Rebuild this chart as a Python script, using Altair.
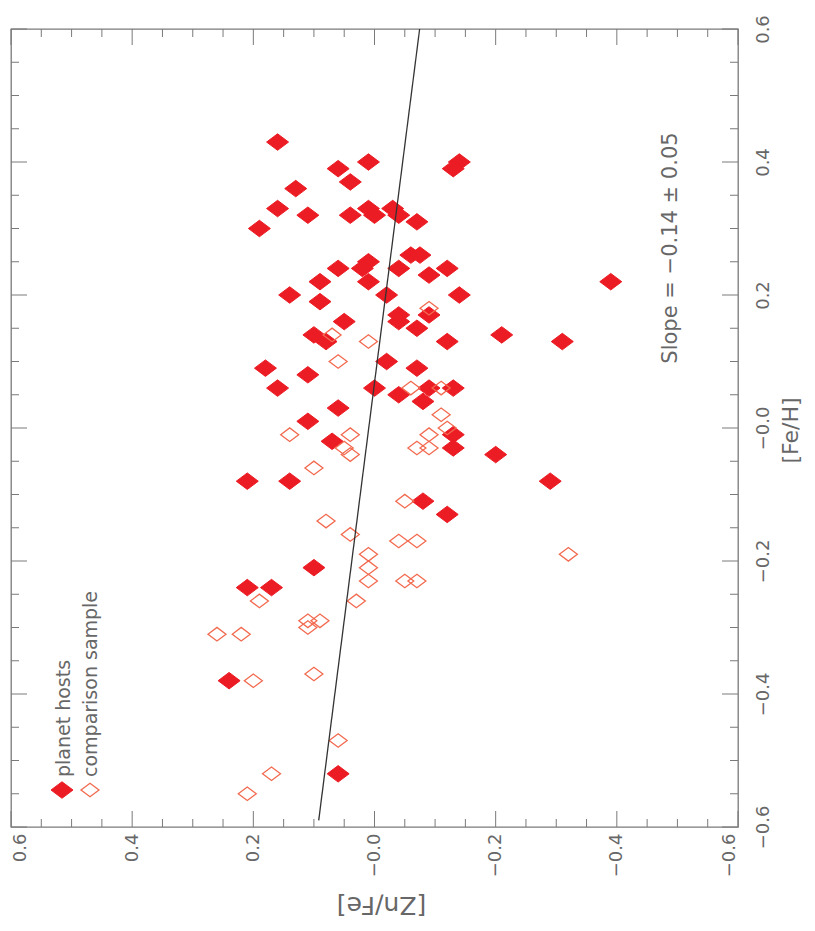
import altair as alt
import pandas as pd

# Planet-host stars ([Zn/Fe], [Fe/H])
host_znfe = [0.16, 0.01, 0.06, -0.14, -0.13, 0.04, 0.13, 0.16, 0.11, 0.19,
             0.04, 0.01, 0.00, -0.03, -0.04, -0.07, -0.06, -0.075, 0.01, 0.02,
             0.06, -0.04, -0.12, -0.09, 0.01, 0.09, 0.14, 0.09, -0.02, -0.14,
             -0.04, -0.04, -0.09, 0.05, -0.07, 0.10, 0.08, -0.12, -0.21, 0.18,
             0.11, -0.02, -0.07, 0.16, 0.00, -0.04, -0.09, -0.08, -0.13, 0.06,
             0.11, 0.07, -0.13, -0.39, -0.31, -0.13, -0.20, 0.21, 0.14, -0.29,
             -0.08, -0.12, 0.10, 0.21, 0.17, 0.24, 0.06]
host_feh = [0.43, 0.40, 0.39, 0.40, 0.39, 0.37, 0.36, 0.33, 0.32, 0.30,
            0.32, 0.33, 0.32, 0.33, 0.32, 0.31, 0.26, 0.26, 0.25, 0.24,
            0.24, 0.24, 0.24, 0.23, 0.22, 0.22, 0.20, 0.19, 0.20, 0.20,
            0.17, 0.16, 0.17, 0.16, 0.15, 0.14, 0.13, 0.13, 0.14, 0.09,
            0.08, 0.10, 0.09, 0.06, 0.06, 0.05, 0.06, 0.04, 0.06, 0.03,
            0.01, -0.02, -0.01, 0.22, 0.13, -0.03, -0.04, -0.08, -0.08, -0.08,
            -0.11, -0.13, -0.21, -0.24, -0.24, -0.38, -0.52]

# Comparison sample ([Zn/Fe], [Fe/H])
comp_znfe = [-0.09, 0.07, 0.01, 0.06, -0.06, -0.11, -0.11, -0.12, -0.09, 0.14,
             0.04, 0.05, 0.04, -0.07, -0.09, 0.10, -0.05, 0.08, 0.04, -0.04,
             -0.07, 0.01, -0.32, 0.01, 0.01, -0.05, -0.07, 0.19, 0.03, 0.11,
             0.09, 0.11, 0.26, 0.22, 0.20, 0.10, 0.06, 0.17, 0.21]
comp_feh = [0.18, 0.14, 0.13, 0.10, 0.06, 0.06, 0.02, 0.00, -0.01, -0.01,
            -0.01, -0.03, -0.04, -0.03, -0.03, -0.06, -0.11, -0.14, -0.16, -0.17,
            -0.17, -0.19, -0.19, -0.21, -0.23, -0.23, -0.23, -0.26, -0.26, -0.29,
            -0.29, -0.30, -0.31, -0.31, -0.38, -0.37, -0.47, -0.52, -0.55]

# Linear fit of [Zn/Fe] against [Fe/H]
slope = -0.14
slope_err = 0.05
intercept = 0.0095
fit_feh = [-0.59, 0.60]

major_ticks = [-0.6, -0.4, -0.2, 0.0, 0.2, 0.4, 0.6]
minor_ticks = [-0.55, -0.5, -0.45, -0.35, -0.3, -0.25, -0.15, -0.1, -0.05,
               0.05, 0.1, 0.15, 0.25, 0.3, 0.35, 0.45, 0.5, 0.55]

W, H = 727, 798
FONT = "DejaVu Sans"
TXT = "#676767"
FRAME = "#7a7a7a"
RED = "#ec1c24"
ORANGE = "#f26a4f"
DIAMOND = "M-1,0L0,-0.75L1,0L0,0.75Z"
MAJOR_LEN, MINOR_LEN = 16, 8

label_expr = ("datum.value > 0.001 ? format(datum.value, '.1f') : "
              "'\u2212' + format(abs(datum.value), '.1f')")

# End labels of the horizontal axis are kept inside the frame
x_label_baseline = {
    "condition": [
        {"test": "datum.value > 0.59", "value": "top"},
        {"test": "datum.value < -0.59", "value": "bottom"},
    ],
    "value": "middle",
}

x_axis = alt.Axis(
    orient="bottom", values=major_ticks, labelExpr=label_expr,
    domain=False, ticks=False, grid=False,
    labelAngle=270, labelAlign="right", labelBaseline=x_label_baseline,
    labelPadding=6, labelFont=FONT, labelFontSize=18, labelColor=TXT,
    labelOverlap=False, labelFlush=False,
    title="[Zn/Fe]", titleFont=FONT, titleFontSize=25, titleFontWeight="normal",
    titleColor=TXT, titleAngle=180, titleAlign="center", titleBaseline="middle",
    titleX=370, titleY=77,
)
y_axis = alt.Axis(
    orient="right", values=major_ticks, labelExpr=label_expr,
    domain=False, ticks=False, grid=False,
    labelAngle=270, labelAlign="center", labelBaseline="top",
    labelPadding=16, labelFont=FONT, labelFontSize=18, labelColor=TXT,
    labelOverlap=False, labelFlush=False,
    title="[Fe/H]", titleFont=FONT, titleFontSize=22, titleFontWeight="normal",
    titleColor=TXT, titleAngle=270, titleAlign="center", titleBaseline="middle",
    titleX=52, titleY=401,
)

xs = alt.Scale(domain=[-0.6, 0.6], reverse=True, nice=False, zero=False)
ys = alt.Scale(domain=[-0.6, 0.6], nice=False, zero=False)
X = alt.X("ZnFe:Q", scale=xs, axis=x_axis)
Y = alt.Y("FeH:Q", scale=ys, axis=y_axis)

hosts = pd.DataFrame({"ZnFe": host_znfe, "FeH": host_feh})
comps = pd.DataFrame({"ZnFe": comp_znfe, "FeH": comp_feh})
fit = pd.DataFrame({"FeH": fit_feh})
fit["ZnFe"] = intercept + slope * fit["FeH"]

# Inward-pointing frame ticks on all four sides
def x_ticks(values, length):
    df = pd.DataFrame({"ZnFe": values})
    base = alt.Chart(df).mark_rule(color=FRAME, strokeWidth=1)
    return [
        base.encode(x=X, y=alt.value(0), y2=alt.value(length)),
        base.encode(x=X, y=alt.value(H), y2=alt.value(H - length)),
    ]

def y_ticks(values, length):
    df = pd.DataFrame({"FeH": values})
    base = alt.Chart(df).mark_rule(color=FRAME, strokeWidth=1)
    return [
        base.encode(y=Y, x=alt.value(0), x2=alt.value(length)),
        base.encode(y=Y, x=alt.value(W), x2=alt.value(W - length)),
    ]

ticks = (x_ticks(major_ticks, MAJOR_LEN) + x_ticks(minor_ticks, MINOR_LEN)
         + y_ticks(major_ticks, MAJOR_LEN) + y_ticks(minor_ticks, MINOR_LEN))

filled = alt.Chart(hosts).mark_point(
    shape=DIAMOND, filled=True, size=484, fill=RED, stroke=RED,
    strokeWidth=1, opacity=1,
).encode(x=X, y=Y)

hollow = alt.Chart(comps).mark_point(
    shape=DIAMOND, filled=False, size=324, stroke=ORANGE,
    strokeWidth=1.3, opacity=1,
).encode(x=X, y=Y)

fit_line = alt.Chart(fit).mark_line(color="#333333", strokeWidth=1.3).encode(
    x=X, y=Y, order="FeH:Q"
)

# Legend in the lower-left corner of the frame
legend_df = pd.DataFrame({"label": ["planet hosts", "comparison sample"]})
leg_host_sym = alt.Chart(legend_df.iloc[[0]]).mark_point(
    shape=DIAMOND, filled=True, size=484, fill=RED, stroke=RED, strokeWidth=1, opacity=1
).encode(x=alt.value(51), y=alt.value(761))
leg_comp_sym = alt.Chart(legend_df.iloc[[1]]).mark_point(
    shape=DIAMOND, filled=False, size=324, stroke=ORANGE, strokeWidth=1.3, opacity=1
).encode(x=alt.value(79), y=alt.value(761))
leg_text_style = dict(angle=270, align="left", baseline="middle",
                      font=FONT, fontSize=19, color=TXT)
leg_host_txt = alt.Chart(legend_df.iloc[[0]]).mark_text(**leg_text_style).encode(
    x=alt.value(52.5), y=alt.value(748), text="label:N")
leg_comp_txt = alt.Chart(legend_df.iloc[[1]]).mark_text(**leg_text_style).encode(
    x=alt.value(80), y=alt.value(748), text="label:N")

slope_df = pd.DataFrame({"label": [f"Slope = \u2212{abs(slope):.2f} \u00b1 {slope_err:.2f}"]})
slope_txt = alt.Chart(slope_df).mark_text(
    angle=270, align="center", baseline="middle", font=FONT, fontSize=21, color=TXT
).encode(x=alt.value(660), y=alt.value(219), text="label:N")

chart = alt.layer(
    *ticks, filled, hollow, fit_line,
    leg_host_sym, leg_comp_sym, leg_host_txt, leg_comp_txt, slope_txt,
).properties(
    width=W, height=H,
    padding={"left": 11, "top": 29, "right": 77, "bottom": 104},
    autosize=alt.AutoSizeParams(type="none"),
    background="white",
).configure_view(stroke=FRAME, strokeWidth=1.3)

chart.save("out.html", embed_options={"renderer": "svg", "actions": False})
